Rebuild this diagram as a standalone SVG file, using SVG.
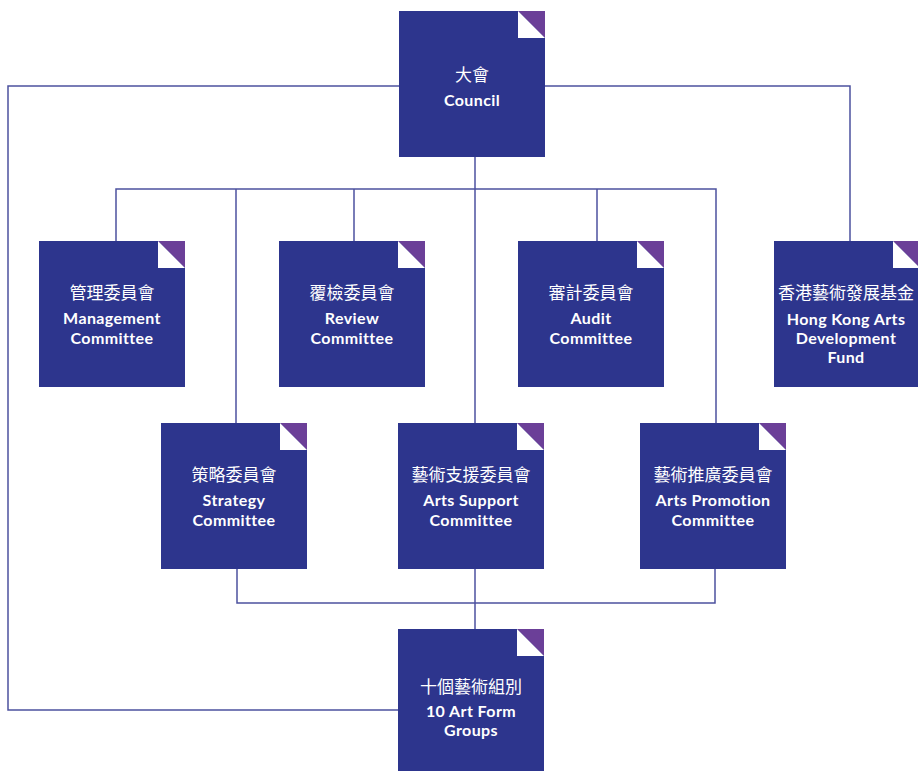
<svg xmlns="http://www.w3.org/2000/svg" width="918" height="771" viewBox="0 0 918 771">
<defs>
<style>
.box{fill:#2d358d}
.fold{fill:#ffffff}
.foldp{fill:#6b3f98}
.ln{fill:none;stroke:#4c519f;stroke-width:1.5}
.zh{font-family:"Noto Sans CJK TC","Noto Sans CJK SC",sans-serif;font-size:17px;fill:#ffffff;text-anchor:middle}
.en{font-family:Lato,"Open Sans",sans-serif;font-weight:700;font-size:16px;letter-spacing:0.4px;fill:#ffffff;text-anchor:middle}
</style>
<g id="card">
<rect class="box" x="0" y="0" width="146" height="146"/>
<polygon class="foldp" points="119,0 146,0 146,27"/>
<polygon class="fold" points="119,0 119,27 146,27"/>
</g>
</defs>
<rect width="918" height="771" fill="#ffffff"/>
<g id="connectors">
<path class="ln" d="M399,86 H8 V710 H398"/>
<path class="ln" d="M545,86 H850 V241"/>
<path class="ln" d="M475,157 V423"/>
<path class="ln" d="M116,241 V189 H716 V423"/>
<path class="ln" d="M236,189 V423"/>
<path class="ln" d="M354,189 V241"/>
<path class="ln" d="M597,189 V241"/>
<path class="ln" d="M237,569 V603 H715 V569"/>
<path class="ln" d="M475,569 V629"/>
</g>
<g id="council">
<use href="#card" x="399" y="11"/>
<text class="zh" x="472" y="81">大會</text>
<text class="en" x="472" y="106">Council</text>
</g>
<g id="management">
<use href="#card" x="39" y="241"/>
<text class="zh" x="112" y="299">管理委員會</text>
<text class="en" x="112" y="324">Management</text>
<text class="en" x="112" y="344">Committee</text>
</g>
<g id="review">
<use href="#card" x="279" y="241"/>
<text class="zh" x="352" y="299">覆檢委員會</text>
<text class="en" x="352" y="324">Review</text>
<text class="en" x="352" y="344">Committee</text>
</g>
<g id="audit">
<use href="#card" x="518" y="241"/>
<text class="zh" x="591" y="299">審計委員會</text>
<text class="en" x="591" y="324">Audit</text>
<text class="en" x="591" y="344">Committee</text>
</g>
<g id="hkadf">
<use href="#card" x="774" y="241"/>
<text class="zh" x="846" y="299">香港藝術發展基金</text>
<text class="en" x="846" y="325">Hong Kong Arts</text>
<text class="en" x="846" y="344">Development</text>
<text class="en" x="846" y="363">Fund</text>
</g>
<g id="strategy">
<use href="#card" x="161" y="423"/>
<text class="zh" x="234" y="481">策略委員會</text>
<text class="en" x="234" y="506">Strategy</text>
<text class="en" x="234" y="526">Committee</text>
</g>
<g id="arts-support">
<use href="#card" x="398" y="423"/>
<text class="zh" x="471" y="481">藝術支援委員會</text>
<text class="en" x="471" y="506">Arts Support</text>
<text class="en" x="471" y="526">Committee</text>
</g>
<g id="arts-promotion">
<use href="#card" x="640" y="423"/>
<text class="zh" x="713" y="481">藝術推廣委員會</text>
<text class="en" x="713" y="506">Arts Promotion</text>
<text class="en" x="713" y="526">Committee</text>
</g>
<g id="art-form-groups">
<use href="#card" x="398" y="629"/>
<text class="zh" x="471" y="693">十個藝術組別</text>
<text class="en" x="471" y="717">10 Art Form</text>
<text class="en" x="471" y="736">Groups</text>
</g>
</svg>
